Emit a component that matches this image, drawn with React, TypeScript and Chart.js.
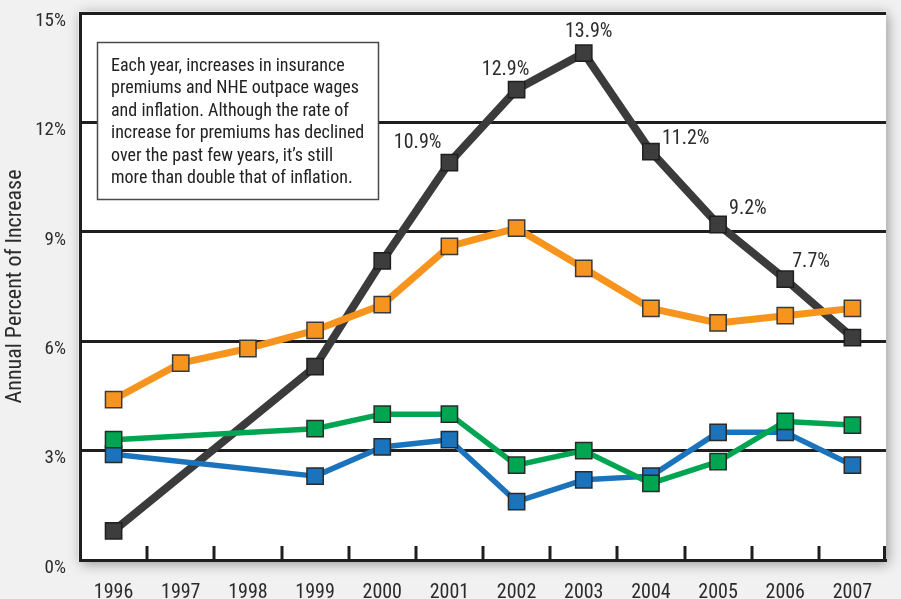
import React, { useEffect, useRef } from "react";
import { Chart, registerables } from "chart.js";

Chart.register(...registerables);

const years = ["1996", "1997", "1998", "1999", "2000", "2001", "2002", "2003", "2004", "2005", "2006", "2007"];
const premiums = [0.8, null, null, 5.3, 8.2, 10.9, 12.9, 13.9, 11.2, 9.2, 7.7, 6.1];
const nhe = [4.4, 5.4, 5.8, 6.3, 7.0, 8.6, 9.1, 8.0, 6.9, 6.5, 6.7, 6.9];
const wages = [3.3, null, null, 3.6, 4.0, 4.0, 2.6, 3.0, 2.1, 2.7, 3.8, 3.7];
const inflation = [2.9, null, null, 2.3, 3.1, 3.3, 1.6, 2.2, 2.3, 3.5, 3.5, 2.6];
const premiumLabels = [null, null, null, null, null, "10.9%", "12.9%", "13.9%", "11.2%", "9.2%", "7.7%", null];
const yTickValues = [0, 3, 6, 9, 12, 15];
const yTitle = "Annual Percent of Increase";
const noteLines = [
  "Each year, increases in insurance",
  "premiums and NHE outpace wages",
  "and inflation. Although the rate of",
  "increase for premiums has declined",
  "over the past few years, it\u2019s still",
  "more than double that of inflation.",
];

const FONT = '"Roboto Condensed", "DejaVu Sans Condensed", sans-serif';
const INK = "#2b2b2b";

// label placement for the premium series: [dx, dy, align]
const labelPlacement: Record<number, [number, number, CanvasTextAlign]> = {
  5: [-8, -20, "right"],
  6: [-11, -20, "center"],
  7: [5, -21, "center"],
  8: [11, -13, "left"],
  9: [11, -16, "left"],
  10: [7, -17, "left"],
};

const decorPlugin = {
  id: "decor",
  beforeDraw(chart: any) {
    const { ctx, chartArea: a, width, height } = chart;
    ctx.save();
    ctx.fillStyle = "#f1f1f1";
    ctx.fillRect(0, 0, width, height);
    ctx.shadowColor = "rgba(0,0,0,0.38)";
    ctx.shadowBlur = 12;
    ctx.shadowOffsetX = 2;
    ctx.shadowOffsetY = 2;
    ctx.fillStyle = "#ffffff";
    ctx.fillRect(a.left - 1.5, a.top - 1.5, a.right - a.left + 1.5, a.bottom - a.top + 3);
    ctx.restore();
  },
  beforeDatasetsDraw(chart: any) {
    const { ctx, chartArea: a, scales } = chart;
    const xs = scales.x;
    ctx.save();
    // tick marks between categories
    ctx.strokeStyle = "#1e1e1e";
    ctx.lineWidth = 3;
    const n = years.length;
    for (let i = 1; i <= n; i++) {
      const x = Math.round(xs.left + (i * (xs.right - xs.left)) / n) - (i === n ? 1.5 : 0);
      ctx.beginPath();
      ctx.moveTo(x, a.bottom);
      ctx.lineTo(x, a.bottom - 14);
      ctx.stroke();
    }
    // annotation box
    const bx = a.left + 17.5;
    const by = a.top + 29.5;
    const bw = 281;
    const bh = 157;
    ctx.fillStyle = "#ffffff";
    ctx.fillRect(bx, by, bw, bh);
    ctx.strokeStyle = "#4a4a4a";
    ctx.lineWidth = 1.5;
    ctx.strokeRect(bx, by, bw, bh);
    ctx.fillStyle = "#222";
    ctx.font = `18px ${FONT}`;
    ctx.textAlign = "left";
    ctx.textBaseline = "middle";
    noteLines.forEach((t, i) => {
      ctx.fillText(t, bx + 13.5, by + 23.5 + i * 22.5);
    });
    ctx.restore();
  },
  afterDatasetsDraw(chart: any) {
    const { ctx } = chart;
    const idx = chart.data.datasets.findIndex((d: any) => d.label === "Premiums");
    const meta = chart.getDatasetMeta(idx);
    ctx.save();
    ctx.fillStyle = "#2b2b2b";
    ctx.font = `20px ${FONT}`;
    ctx.textBaseline = "middle";
    premiumLabels.forEach((lab, i) => {
      if (!lab) return;
      const p = meta.data[i];
      const [dx, dy, align] = labelPlacement[i] || [0, -20, "center"];
      ctx.textAlign = align;
      ctx.fillText(lab, p.x + dx, p.y + dy);
    });
    ctx.restore();
  },
};

export default function App() {
  const ref = useRef<HTMLCanvasElement | null>(null);

  useEffect(() => {
    if (!ref.current) return;
    const pt = (fill: string, border: string) => ({
      pointStyle: "rect" as const,
      pointRadius: 11.5,
      pointHoverRadius: 11.5,
      pointBackgroundColor: fill,
      pointBorderColor: border,
      pointBorderWidth: 1.5,
    });
    const chart = new Chart(ref.current, {
      type: "line",
      data: {
        labels: years,
        datasets: [
          {
            label: "Premiums",
            data: premiums,
            borderColor: "#3b3b3b",
            borderWidth: 8,
            spanGaps: true,
            order: 3,
            borderJoinStyle: "round",
            ...pt("#3d3d3d", "#1f1f1f"),
          },
          {
            label: "NHE",
            data: nhe,
            borderColor: "#f7941d",
            borderWidth: 7,
            spanGaps: true,
            order: 2,
            borderJoinStyle: "round",
            ...pt("#f7941d", "#3a3a3a"),
          },
          {
            label: "Inflation",
            data: inflation,
            borderColor: "#1b73bb",
            borderWidth: 5.5,
            spanGaps: true,
            order: 1,
            borderJoinStyle: "round",
            ...pt("#1b73bb", "#2a2a2a"),
          },
          {
            label: "Wages",
            data: wages,
            borderColor: "#00a551",
            borderWidth: 5.5,
            spanGaps: true,
            order: 0,
            borderJoinStyle: "round",
            ...pt("#00a551", "#2a2a2a"),
          },
        ],
      },
      options: {
        animation: false,
        responsive: false,
        devicePixelRatio: 1,
        layout: { padding: { top: 12, right: 15, left: 0, bottom: 0 } },
        plugins: { legend: { display: false }, tooltip: { enabled: false } },
        elements: { line: { tension: 0 } },
        scales: {
          x: {
            type: "category",
            offset: true,
            grid: { display: false, drawTicks: false, offset: true },
            border: { display: true, color: "#1e1e1e", width: 3 },
            ticks: {
              color: INK,
              font: { family: FONT, size: 20 },
              padding: 21,
              maxRotation: 0,
              autoSkip: false,
            },
            afterFit(scale: any) {
              scale.height = 39;
            },
          },
          y: {
            min: 0,
            max: 15,
            afterBuildTicks(scale: any) {
              scale.ticks = yTickValues.map((v) => ({ value: v }));
            },
            grid: {
              color: "#1e1e1e",
              lineWidth: 3,
              drawTicks: true,
              tickLength: 14,
              tickColor: "rgba(0,0,0,0)",
            },
            border: { display: true, color: "#1e1e1e", width: 3 },
            ticks: {
              color: INK,
              font: { family: FONT, size: 19 },
              padding: 0,
              labelOffset: 8,
              callback: (v: any) => `${v}%`,
            },
            title: {
              display: true,
              text: yTitle,
              color: INK,
              font: { family: FONT, size: 22 },
              padding: { top: 2, bottom: 0 },
            },
            afterFit(scale: any) {
              scale.width = 80;
            },
          },
        },
      },
      plugins: [decorPlugin],
    });
    return () => chart.destroy();
  }, []);

  return (
    <div style={{ position: "fixed", left: 0, top: 0, width: 901, height: 599, background: "#f1f1f1" }}>
      <canvas ref={ref} width={901} height={599} style={{ display: "block", width: 901, height: 599 }} />
    </div>
  );
}
